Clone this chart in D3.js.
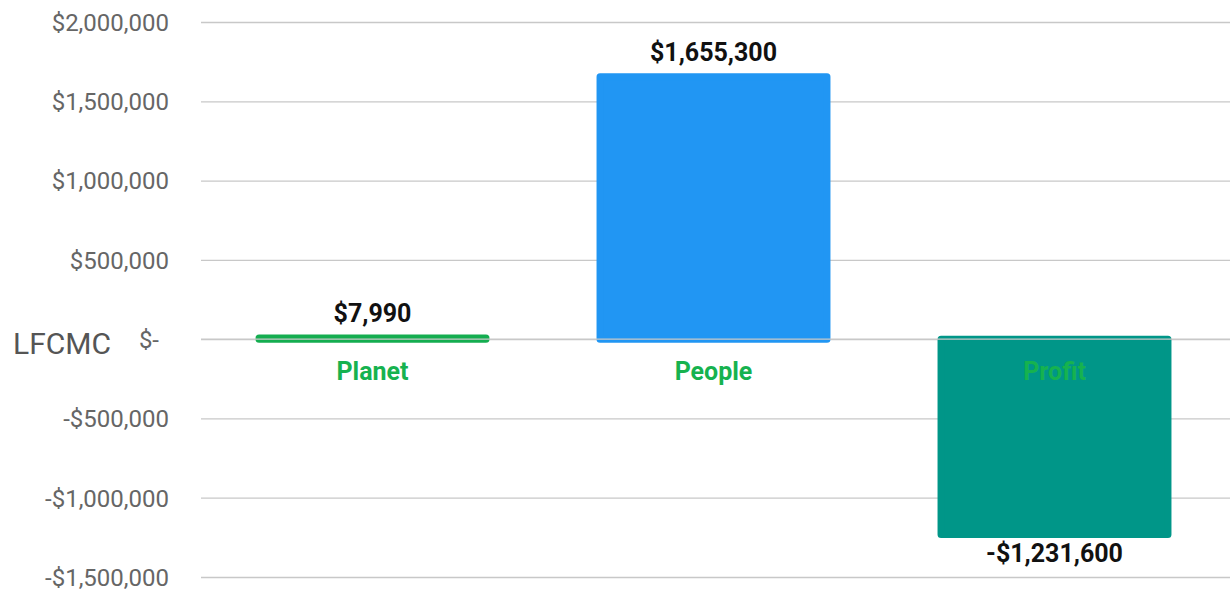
<!DOCTYPE html>
<html>
<head>
<meta charset="utf-8">
<script src="https://cdn.jsdelivr.net/npm/d3@7"></script>
<style>
  body { margin: 0; background: #fff; }
  svg text { font-family: Roboto, "Noto Sans", sans-serif; }
</style>
</head>
<body>
<div id="chart"></div>
<script>
// Data
const categories = ["Planet", "People", "Profit"];
const values = [7990, 1655300, -1231600];
const barColors = ["#14ad50", "#2196f3", "#009688"];
const tickValues = [-1500000, -1000000, -500000, 0, 500000, 1000000, 1500000, 2000000];

const width = 1230;
const height = 592;
const left = 201;

const svg = d3
  .select("#chart")
  .append("svg")
  .attr("width", width)
  .attr("height", height);

const y = d3.scaleLinear().domain([-1500000, 2000000]).range([577, 22]);
const x = d3.scaleBand().domain(categories).range([202, 1225]).paddingInner(0.314).paddingOuter(0.157);

const fmt = (v) => {
  if (v === 0) return "$-";
  const s = "$" + d3.format(",")(Math.abs(v));
  return v < 0 ? "-" + s : s;
};

// Gridlines + tick labels
const yAxis = d3
  .axisLeft(y)
  .tickValues(tickValues)
  .tickSize(-(width - left))
  .tickPadding(31)
  .tickFormat(fmt);

const axisG = svg
  .append("g")
  .attr("transform", `translate(${left},0)`)
  .call(yAxis);

axisG.select(".domain").remove();
axisG.selectAll(".tick line").attr("stroke", "#c8c8c8").attr("stroke-width", 1.3);
axisG
  .selectAll(".tick text")
  .attr("fill", "#666")
  .style("font-size", "24px")
  .attr("dy", "0.35em")
  .attr("x", (d) => (d === 0 ? -42 : -32));

// Axis title
svg
  .append("text")
  .attr("x", 13)
  .attr("y", 354)
  .attr("fill", "#555")
  .style("font-size", "30px")
  .text("LFCMC");

const data = categories.map((c, i) => ({ cat: c, value: values[i], color: barColors[i] }));
const y0 = y(0);
const grow = 3.5;

// Bars
svg
  .selectAll(".bar")
  .data(data)
  .enter()
  .append("rect")
  .attr("class", "bar")
  .attr("x", (d) => x(d.cat) + grow)
  .attr("width", x.bandwidth() - grow * 2)
  .attr("y", (d) => Math.min(y(d.value), y0))
  .attr("height", (d) => Math.abs(y(d.value) - y0))
  .attr("fill", (d) => d.color)
  .attr("stroke", (d) => d.color)
  .attr("stroke-width", grow * 2)
  .attr("stroke-linejoin", "round");

// Zero line over the bars
svg
  .append("line")
  .attr("x1", left)
  .attr("x2", width)
  .attr("y1", y0)
  .attr("y2", y0)
  .attr("stroke", "#c8c8c8")
  .attr("stroke-width", 1.3);

// Value labels
svg
  .selectAll(".value-label")
  .data(data)
  .enter()
  .append("text")
  .attr("class", "value-label")
  .attr("text-anchor", "middle")
  .attr("x", (d) => x(d.cat) + x.bandwidth() / 2)
  .attr("y", (d) => (d.value >= 0 ? y(d.value) - grow - 12 : y(d.value) + grow + 24))
  .attr("fill", "#111")
  .style("font-size", "25px")
  .style("font-weight", "bold")
  .text((d) => fmt(d.value));

// Category labels
svg
  .selectAll(".cat-label")
  .data(data)
  .enter()
  .append("text")
  .attr("class", "cat-label")
  .attr("text-anchor", "middle")
  .attr("x", (d) => x(d.cat) + x.bandwidth() / 2)
  .attr("y", y0 + 41)
  .attr("fill", "#16b24f")
  .style("font-size", "25px")
  .style("font-weight", "bold")
  .text((d) => d.cat);
</script>
</body>
</html>
